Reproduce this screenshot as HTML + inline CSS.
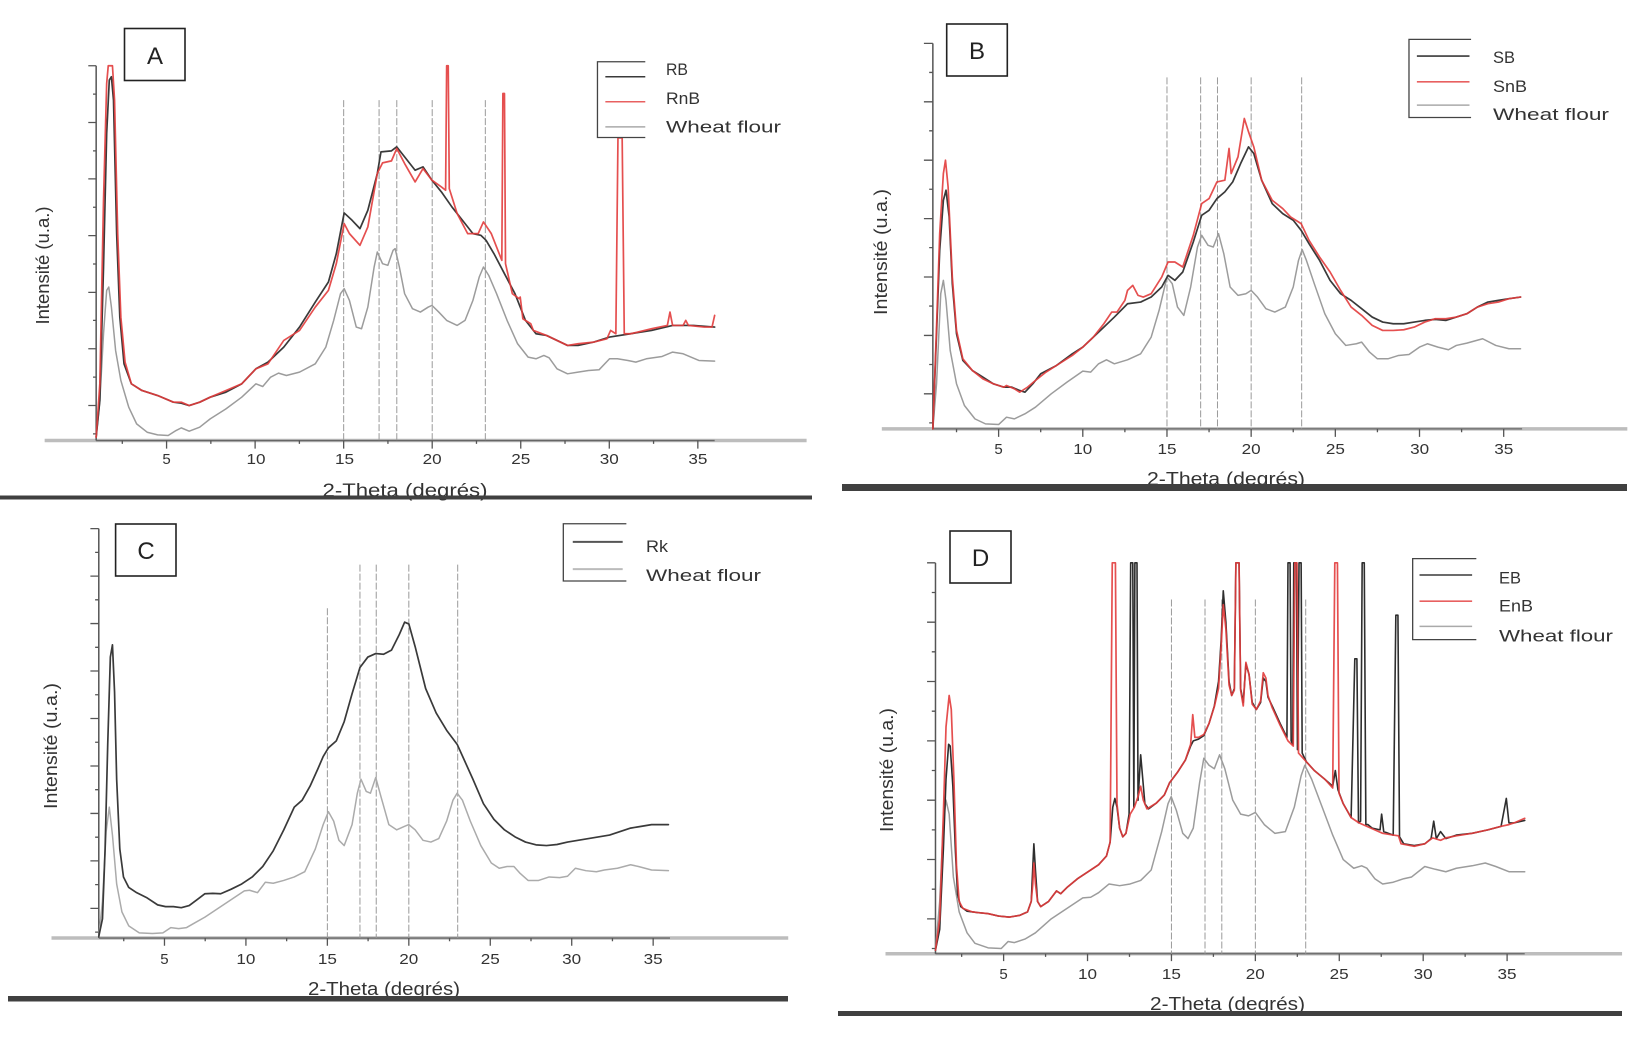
<!DOCTYPE html>
<html><head><meta charset="utf-8"><style>
html,body{margin:0;padding:0;background:#fff;width:1651px;height:1048px;overflow:hidden}
svg{display:block}
.p *{vector-effect:non-scaling-stroke}
.p polyline{stroke-linejoin:round;stroke-linecap:round}
text{font-family:"Liberation Sans",Arial,sans-serif;fill:#2a2a2a}
.tk{font-size:15px;fill:#333}
.lg{font-size:17px;fill:#333}
.ti{font-size:18px;fill:#333}
.bx{font-size:24px;fill:#222}
</style></head><body>
<svg width="1651" height="1048" viewBox="0 0 1651 1048" xmlns="http://www.w3.org/2000/svg">
<rect width="1651" height="1048" fill="#fff"/>

<!-- ================= PANEL A ================= -->
<svg class="p" x="0" y="0" width="825" height="524" viewBox="0 0 1570 1570" preserveAspectRatio="none">
 <line x1="85" y1="1320" x2="1535" y2="1320" stroke="#bdbdbd" stroke-width="3.5"/>
 <line x1="183" y1="1320" x2="1360" y2="1320" stroke="#666" stroke-width="1.3"/>
 <line x1="183" y1="197" x2="183" y2="1320" stroke="#555" stroke-width="1.5"/>
 <path d="M168 197H183M168 367H183M168 536H183M168 706H183M168 876H183M168 1045H183M168 1215H183M177 282H183M177 452H183M177 621H183M177 791H183M177 960H183M177 1130H183M177 1300H183" stroke="#555" stroke-width="1.3" fill="none"/>
 <path d="M232.75 1320V1330M317 1320V1344M401.25 1320V1330M485.5 1320V1344M569.75 1320V1330M654 1320V1344M738.25 1320V1330M822.5 1320V1344M906.75 1320V1330M991 1320V1344M1075.25 1320V1330M1159.5 1320V1344M1243.75 1320V1330M1328 1320V1344" stroke="#555" stroke-width="1.3" fill="none"/>
 <path d="M654 300V1320M721.4 300V1320M755.1 300V1320M822.5 300V1320M923.6 300V1320" stroke="#9a9a9a" stroke-width="1" stroke-dasharray="7 2" fill="none"/>
 <polyline fill="none" stroke="#9c9c9c" stroke-width="1.5" points="183,1310 190,1200 197,1000 203,870 207,860 212,920 220,1050 230,1140 245,1220 260,1270 280,1295 300,1303 320,1305 335,1290 345,1282 360,1292 380,1280 400,1255 430,1225 460,1190 487,1150 500,1158 515,1130 530,1118 545,1125 570,1115 600,1090 620,1040 635,960 648,880 655,865 665,900 678,980 688,985 700,920 712,800 718,755 728,790 738,795 748,750 752,745 760,800 770,880 785,925 800,935 815,920 822,915 835,935 850,960 870,975 885,960 900,900 912,830 920,800 930,825 945,880 965,960 985,1030 1005,1070 1020,1075 1035,1065 1045,1072 1060,1105 1080,1120 1100,1115 1120,1110 1140,1108 1160,1075 1175,1075 1195,1080 1210,1085 1230,1075 1260,1068 1280,1055 1300,1060 1330,1080 1360,1082"/>
 <polyline fill="none" stroke="#3a3a3a" stroke-width="1.7" points="183,1310 190,1200 197,800 203,400 208,240 212,230 216,300 222,700 228,950 236,1090 250,1150 270,1170 300,1185 330,1205 345,1208 360,1215 380,1205 400,1190 430,1175 460,1150 487,1105 510,1085 540,1040 570,980 600,905 625,845 640,760 655,638 670,660 685,685 700,630 718,520 725,455 745,452 755,440 770,470 790,510 805,500 822,540 840,575 860,620 880,660 900,700 915,705 925,720 940,760 960,820 980,880 1000,960 1020,1000 1040,1005 1060,1020 1080,1035 1100,1035 1130,1025 1160,1010 1200,1000 1240,990 1280,975 1320,975 1360,980"/>
 <polyline fill="none" stroke="#e23c3c" stroke-width="1.7" stroke-opacity="0.9" points="183,1310 190,1150 197,600 203,250 206,197 214,197 218,300 224,700 230,950 238,1085 250,1150 270,1170 300,1185 330,1205 345,1205 360,1215 380,1205 400,1190 430,1170 460,1150 487,1105 510,1090 540,1020 570,990 600,920 625,870 640,790 655,670 665,700 685,735 700,680 718,520 728,488 745,482 755,445 770,490 790,545 805,505 822,540 840,560 848,570 850,197 853,197 855,565 870,640 890,700 910,700 920,665 935,700 950,760 955,780 957,280 960,280 962,790 975,880 988,895 990,890 995,955 1010,970 1015,990 1040,1005 1060,1020 1080,1035 1100,1030 1130,1025 1155,1015 1162,990 1172,1000 1176,413 1184,413 1188,1000 1200,1000 1240,985 1270,975 1275,935 1280,975 1300,975 1305,960 1310,975 1340,980 1355,980 1360,945"/>
 <path d="M1228 185H1137V412H1228" stroke="#444" stroke-width="1.3" fill="none"/>
 <line x1="1152" y1="230" x2="1228" y2="230" stroke="#3a3a3a" stroke-width="1.5"/>
 <line x1="1152" y1="305" x2="1228" y2="305" stroke="#e86060" stroke-width="1.5"/>
 <line x1="1152" y1="380" x2="1228" y2="380" stroke="#aaa" stroke-width="1.5"/>
</svg>
<rect x="124.5" y="28.5" width="60.5" height="52" fill="none" stroke="#222" stroke-width="1.6"/>
<text class="bx" x="155" y="64" text-anchor="middle">A</text>
<text class="lg" x="666" y="75" textLength="22" lengthAdjust="spacingAndGlyphs">RB</text>
<text class="lg" x="666" y="104" textLength="34" lengthAdjust="spacingAndGlyphs">RnB</text>
<text class="lg" x="666" y="132.7" textLength="115" lengthAdjust="spacingAndGlyphs">Wheat flour</text>
<text class="tk" x="166.6" y="464" text-anchor="middle">5</text>
<text class="tk" x="256" y="464" text-anchor="middle" textLength="19" lengthAdjust="spacingAndGlyphs">10</text>
<text class="tk" x="344.5" y="464" text-anchor="middle" textLength="19" lengthAdjust="spacingAndGlyphs">15</text>
<text class="tk" x="432.2" y="464" text-anchor="middle" textLength="19" lengthAdjust="spacingAndGlyphs">20</text>
<text class="tk" x="520.8" y="464" text-anchor="middle" textLength="19" lengthAdjust="spacingAndGlyphs">25</text>
<text class="tk" x="609.3" y="464" text-anchor="middle" textLength="19" lengthAdjust="spacingAndGlyphs">30</text>
<text class="tk" x="697.9" y="464" text-anchor="middle" textLength="19" lengthAdjust="spacingAndGlyphs">35</text>
<text class="ti" x="405" y="496.5" text-anchor="middle" textLength="165" lengthAdjust="spacingAndGlyphs">2-Theta (degrés)</text>
<text class="ti" transform="translate(49,265.5) rotate(-90)" text-anchor="middle" textLength="118" lengthAdjust="spacingAndGlyphs">Intensité (u.a.)</text>
<rect x="0" y="495.5" width="812" height="4" fill="#404040"/>

<!-- ================= PANEL B ================= -->
<svg class="p" x="825" y="0" width="826" height="524" viewBox="0 0 1570 1570" preserveAspectRatio="none">
 <line x1="108" y1="1285" x2="1525" y2="1285" stroke="#bdbdbd" stroke-width="3.5"/>
 <line x1="205" y1="1285" x2="1325" y2="1285" stroke="#666" stroke-width="1.3"/>
 <line x1="205" y1="130" x2="205" y2="1285" stroke="#555" stroke-width="1.5"/>
 <path d="M188 130H205M188 305H205M188 480H205M188 655H205M188 830H205M188 1005H205M188 1180H205M198 217H205M198 392H205M198 567H205M198 742H205M198 917H205M198 1092H205M198 1267H205" stroke="#555" stroke-width="1.3" fill="none"/>
 <path d="M250 1285V1295M330 1285V1309M410 1285V1295M490 1285V1309M570 1285V1295M650 1285V1309M730 1285V1295M810 1285V1309M890 1285V1295M970 1285V1309M1050 1285V1295M1130 1285V1309M1210 1285V1295M1290 1285V1309" stroke="#555" stroke-width="1.3" fill="none"/>
 <path d="M650 232V1285M714 232V1285M746 232V1285M810 232V1285M906 232V1285" stroke="#9a9a9a" stroke-width="1" stroke-dasharray="7 2" fill="none"/>
 <polyline fill="none" stroke="#9c9c9c" stroke-width="1.5" points="205,1285 212,1150 220,880 225,840 230,900 238,1050 250,1150 265,1215 285,1255 305,1270 330,1272 345,1250 360,1255 380,1240 400,1220 430,1180 460,1145 490,1112 505,1115 520,1090 535,1078 550,1090 575,1078 600,1060 620,1010 635,930 650,830 660,850 670,920 682,945 695,860 708,740 716,705 728,735 738,740 748,700 758,760 770,860 785,885 800,880 810,870 822,890 838,925 855,935 875,920 890,860 900,780 907,748 915,780 930,850 950,940 970,1000 990,1035 1010,1030 1020,1025 1035,1055 1050,1075 1070,1075 1090,1065 1110,1062 1130,1040 1145,1030 1165,1040 1185,1048 1200,1035 1220,1028 1250,1015 1275,1035 1300,1045 1322,1045"/>
 <polyline fill="none" stroke="#3a3a3a" stroke-width="1.7" points="205,1285 212,1000 218,750 225,600 230,570 236,650 242,850 250,1000 262,1080 280,1110 300,1130 320,1150 340,1160 355,1160 370,1170 380,1175 395,1150 410,1120 440,1095 470,1060 490,1040 510,1010 530,980 550,950 575,910 600,905 620,890 640,860 652,825 665,840 680,815 700,725 716,645 730,630 745,595 760,575 775,545 790,490 805,440 815,460 830,540 850,610 870,640 890,660 905,690 920,730 940,780 960,840 980,880 1000,900 1020,925 1040,950 1060,965 1080,970 1100,970 1120,965 1140,960 1160,957 1180,960 1200,950 1220,940 1240,920 1260,905 1280,900 1300,895 1322,890"/>
 <polyline fill="none" stroke="#e23c3c" stroke-width="1.7" stroke-opacity="0.9" points="205,1285 212,980 218,700 225,520 229,480 234,560 242,830 250,990 262,1075 280,1110 300,1135 320,1150 340,1160 345,1155 360,1165 370,1175 385,1160 400,1140 420,1115 440,1095 470,1065 490,1040 510,1010 530,970 545,935 555,935 570,900 575,870 585,855 595,885 605,890 620,880 640,830 652,785 665,785 680,800 700,705 716,610 730,595 745,545 760,540 768,445 772,520 785,470 797,355 805,395 815,440 830,540 850,600 870,625 885,650 905,670 920,720 940,770 960,815 980,870 1000,920 1020,945 1040,975 1060,990 1080,990 1100,988 1120,980 1140,965 1160,955 1180,955 1200,950 1220,940 1240,920 1260,910 1280,905 1300,895 1322,890"/>
 <path d="M1228 118H1110V352H1228" stroke="#444" stroke-width="1.3" fill="none"/>
 <line x1="1125" y1="168" x2="1225" y2="168" stroke="#3a3a3a" stroke-width="1.6"/>
 <line x1="1125" y1="245" x2="1225" y2="245" stroke="#e86060" stroke-width="1.6"/>
 <line x1="1125" y1="315" x2="1225" y2="315" stroke="#aaa" stroke-width="1.5"/>
</svg>
<rect x="946.7" y="24" width="60.6" height="52" fill="none" stroke="#222" stroke-width="1.6"/>
<text class="bx" x="977" y="59" text-anchor="middle">B</text>
<text class="lg" x="1493" y="63" textLength="22" lengthAdjust="spacingAndGlyphs">SB</text>
<text class="lg" x="1493" y="92" textLength="34" lengthAdjust="spacingAndGlyphs">SnB</text>
<text class="lg" x="1493" y="120" textLength="116" lengthAdjust="spacingAndGlyphs">Wheat flour</text>
<text class="tk" x="998.6" y="454" text-anchor="middle">5</text>
<text class="tk" x="1082.8" y="454" text-anchor="middle" textLength="19" lengthAdjust="spacingAndGlyphs">10</text>
<text class="tk" x="1167" y="454" text-anchor="middle" textLength="19" lengthAdjust="spacingAndGlyphs">15</text>
<text class="tk" x="1251.2" y="454" text-anchor="middle" textLength="19" lengthAdjust="spacingAndGlyphs">20</text>
<text class="tk" x="1335.4" y="454" text-anchor="middle" textLength="19" lengthAdjust="spacingAndGlyphs">25</text>
<text class="tk" x="1419.6" y="454" text-anchor="middle" textLength="19" lengthAdjust="spacingAndGlyphs">30</text>
<text class="tk" x="1503.8" y="454" text-anchor="middle" textLength="19" lengthAdjust="spacingAndGlyphs">35</text>
<text class="ti" x="1226" y="485" text-anchor="middle" textLength="158" lengthAdjust="spacingAndGlyphs">2-Theta (degrés)</text>
<text class="ti" transform="translate(887,252) rotate(-90)" text-anchor="middle" textLength="126" lengthAdjust="spacingAndGlyphs">Intensité (u.a.)</text>
<rect x="842" y="484" width="785" height="7" fill="#404040"/>

<!-- ================= PANEL C ================= -->
<svg class="p" x="0" y="500" width="825" height="548" viewBox="0 0 1570 1570" preserveAspectRatio="none">
 <line x1="98" y1="1255" x2="1500" y2="1255" stroke="#bdbdbd" stroke-width="3.5"/>
 <line x1="188" y1="1255" x2="1275" y2="1255" stroke="#666" stroke-width="1.3"/>
 <line x1="188" y1="82" x2="188" y2="1255" stroke="#555" stroke-width="1.5"/>
 <path d="M172 82H188M172 218H188M172 354H188M172 490H188M172 626H188M172 762H188M172 898H188M172 1034H188M172 1170H188M181 150H188M181 286H188M181 422H188M181 558H188M181 694H188M181 830H188M181 966H188M181 1102H188M181 1238H188" stroke="#555" stroke-width="1.3" fill="none"/>
 <path d="M235.5 1255V1264M313 1255V1277M390.5 1255V1264M468 1255V1277M545.5 1255V1264M623 1255V1277M700.5 1255V1264M778 1255V1277M855.5 1255V1264M933 1255V1277M1010.5 1255V1264M1088 1255V1277M1165.5 1255V1264M1243 1255V1277" stroke="#555" stroke-width="1.3" fill="none"/>
 <path d="M623 310V1255M685 185V1255M716 185V1255M778 185V1255M871 185V1255" stroke="#9a9a9a" stroke-width="1" stroke-dasharray="7 2" fill="none"/>
 <polyline fill="none" stroke="#ababab" stroke-width="1.5" points="188,1250 195,1150 202,950 208,880 214,960 222,1100 232,1180 245,1220 265,1240 290,1242 310,1240 325,1225 340,1228 355,1225 370,1212 390,1195 410,1175 430,1155 450,1135 465,1120 475,1118 490,1125 505,1095 520,1098 540,1090 560,1080 580,1065 600,1000 615,930 625,893 635,920 645,975 655,990 670,930 680,840 687,800 697,835 705,840 715,795 725,850 740,930 755,945 770,935 778,930 790,945 805,975 820,980 835,970 850,920 862,860 870,840 880,860 895,920 915,990 935,1040 950,1055 965,1050 978,1050 990,1070 1005,1090 1025,1090 1045,1080 1065,1082 1080,1078 1095,1055 1115,1062 1135,1065 1150,1060 1175,1055 1200,1045 1215,1050 1240,1060 1272,1062"/>
 <polyline fill="none" stroke="#3a3a3a" stroke-width="1.7" points="188,1250 195,1200 200,1000 205,700 210,450 214,415 218,550 222,800 228,1000 235,1080 245,1110 260,1125 280,1140 300,1160 315,1165 330,1165 345,1168 360,1162 375,1145 390,1128 405,1127 420,1128 440,1115 460,1100 480,1080 500,1050 520,1005 540,945 560,880 575,860 590,820 605,770 615,735 625,710 640,690 655,635 670,555 685,480 700,450 715,440 730,442 745,430 760,385 770,350 778,355 790,420 810,540 830,610 850,660 870,700 885,750 900,800 920,870 940,915 960,945 980,965 1000,980 1020,988 1040,990 1060,987 1080,980 1100,975 1120,970 1140,965 1160,960 1180,950 1200,940 1220,935 1240,930 1272,930"/>
 <path d="M1192 68H1072V232H1192" stroke="#444" stroke-width="1.3" fill="none"/>
 <line x1="1090" y1="120" x2="1185" y2="120" stroke="#555" stroke-width="2"/>
 <line x1="1090" y1="198" x2="1185" y2="198" stroke="#bbb" stroke-width="2"/>
</svg>
<rect x="115.6" y="524" width="60.4" height="52" fill="none" stroke="#222" stroke-width="1.6"/>
<text class="bx" x="146" y="559" text-anchor="middle">C</text>
<text class="lg" x="646" y="552" textLength="22" lengthAdjust="spacingAndGlyphs">Rk</text>
<text class="lg" x="646" y="581" textLength="115" lengthAdjust="spacingAndGlyphs">Wheat flour</text>
<text class="tk" x="164.4" y="964" text-anchor="middle">5</text>
<text class="tk" x="245.9" y="964" text-anchor="middle" textLength="19" lengthAdjust="spacingAndGlyphs">10</text>
<text class="tk" x="327.4" y="964" text-anchor="middle" textLength="19" lengthAdjust="spacingAndGlyphs">15</text>
<text class="tk" x="408.8" y="964" text-anchor="middle" textLength="19" lengthAdjust="spacingAndGlyphs">20</text>
<text class="tk" x="490.3" y="964" text-anchor="middle" textLength="19" lengthAdjust="spacingAndGlyphs">25</text>
<text class="tk" x="571.7" y="964" text-anchor="middle" textLength="19" lengthAdjust="spacingAndGlyphs">30</text>
<text class="tk" x="653.2" y="964" text-anchor="middle" textLength="19" lengthAdjust="spacingAndGlyphs">35</text>
<text class="ti" x="384" y="995" text-anchor="middle" textLength="152" lengthAdjust="spacingAndGlyphs">2-Theta (degrés)</text>
<text class="ti" transform="translate(57,746) rotate(-90)" text-anchor="middle" textLength="126" lengthAdjust="spacingAndGlyphs">Intensité (u.a.)</text>
<rect x="8" y="996" width="780" height="5.5" fill="#404040"/>

<!-- ================= PANEL D ================= -->
<svg class="p" x="825" y="500" width="826" height="548" viewBox="0 0 1570 1570" preserveAspectRatio="none">
 <line x1="115" y1="1300" x2="1515" y2="1300" stroke="#bdbdbd" stroke-width="3.5"/>
 <line x1="210" y1="1300" x2="1330" y2="1300" stroke="#666" stroke-width="1.3"/>
 <line x1="210" y1="180" x2="210" y2="1300" stroke="#555" stroke-width="1.5"/>
 <path d="M194 180H210M194 350H210M194 520H210M194 690H210M194 860H210M194 1030H210M194 1200H210M203 265H210M203 435H210M203 605H210M203 775H210M203 945H210M203 1115H210M203 1285H210" stroke="#555" stroke-width="1.3" fill="none"/>
 <path d="M259.75 1300V1309M339.5 1300V1321M419.25 1300V1309M499 1300V1321M578.75 1300V1309M658.5 1300V1321M738.25 1300V1309M818 1300V1321M897.75 1300V1309M977.5 1300V1321M1057.25 1300V1309M1137 1300V1321M1216.75 1300V1309M1296.5 1300V1321" stroke="#555" stroke-width="1.3" fill="none"/>
 <path d="M658.5 285V1300M722.3 285V1300M754.2 285V1300M818 285V1300M913.7 285V1300" stroke="#9a9a9a" stroke-width="1" stroke-dasharray="7 2" fill="none"/>
 <polyline fill="none" stroke="#9c9c9c" stroke-width="1.5" points="210,1290 218,1150 225,920 230,860 236,900 244,1080 255,1180 270,1240 285,1270 310,1283 335,1285 348,1265 360,1268 380,1258 400,1240 430,1200 460,1170 490,1140 505,1138 520,1125 540,1100 560,1105 580,1100 600,1090 620,1060 640,950 652,870 658,850 668,890 680,955 690,970 700,940 712,810 720,740 730,760 740,770 750,730 760,770 775,860 790,900 805,905 818,895 835,930 855,955 875,950 892,880 905,790 912,760 925,800 945,880 965,960 985,1030 1005,1055 1020,1048 1030,1055 1045,1085 1060,1100 1080,1095 1100,1085 1115,1080 1140,1050 1160,1058 1180,1065 1200,1055 1230,1048 1255,1040 1275,1050 1300,1065 1330,1065"/>
 <polyline fill="none" stroke="#2e2e2e" stroke-width="1.6" points="210,1290 218,1230 225,1000 230,800 235,700 238,705 243,820 248,1010 252,1130 258,1165 270,1178 290,1182 310,1185 330,1192 350,1195 370,1190 385,1180 392,1150 395,1050 397,985 400,1060 404,1150 410,1165 425,1150 440,1120 448,1128 460,1110 480,1085 500,1065 520,1045 535,1020 542,980 547,880 551,855 555,880 560,940 566,965 572,955 578,900 581,180 585,180 587,880 589,180 593,180 595,860 600,730 604,800 608,870 615,885 630,868 645,845 655,810 670,780 685,745 695,705 700,690 710,685 720,675 730,640 740,590 748,520 753,400 757,260 762,350 768,520 773,560 778,540 781,180 787,180 790,540 795,580 800,470 806,500 812,580 820,600 828,580 833,510 838,520 842,565 850,590 865,640 878,680 880,180 884,180 886,690 889,700 891,180 896,180 898,715 901,180 905,180 907,725 915,750 930,775 950,800 965,820 970,775 975,830 985,870 1000,910 1007,455 1011,455 1014,925 1018,920 1021,180 1025,180 1028,930 1032,930 1040,940 1055,945 1058,900 1062,950 1080,960 1085,330 1089,330 1092,965 1100,985 1120,990 1140,985 1152,970 1157,920 1162,970 1170,950 1180,970 1200,960 1230,955 1260,945 1285,935 1295,855 1300,925 1310,925 1330,918"/>
 <polyline fill="none" stroke="#e23c3c" stroke-width="1.7" stroke-opacity="0.9" points="210,1290 218,1200 225,900 230,650 236,560 240,600 245,800 250,1050 255,1150 262,1170 280,1180 290,1182 310,1185 330,1192 350,1195 370,1190 385,1180 392,1150 395,1100 397,1040 400,1100 404,1150 410,1165 425,1150 440,1120 448,1128 460,1110 480,1085 500,1065 520,1045 535,1020 542,980 546,180 552,180 555,870 560,940 566,965 572,955 580,900 588,880 595,850 600,820 605,860 612,885 630,868 645,845 655,810 670,780 685,745 695,700 699,615 703,680 710,680 720,672 730,640 740,592 748,540 753,420 757,300 762,370 768,530 773,560 778,545 781,180 787,180 790,545 795,590 800,465 806,500 812,585 820,600 828,575 833,495 838,510 842,560 850,595 865,645 880,690 890,705 893,180 897,180 900,725 915,750 930,775 950,800 965,825 969,180 974,180 977,840 985,870 1000,910 1015,925 1030,935 1045,945 1060,955 1080,960 1090,962 1095,985 1120,992 1140,985 1155,968 1170,975 1180,968 1200,962 1230,955 1260,945 1285,935 1300,930 1310,925 1330,912"/>
 <path d="M1238 168H1117V400H1238" stroke="#444" stroke-width="1.3" fill="none"/>
 <line x1="1130" y1="215" x2="1230" y2="215" stroke="#3a3a3a" stroke-width="1.5"/>
 <line x1="1130" y1="290" x2="1230" y2="290" stroke="#e86060" stroke-width="1.6"/>
 <line x1="1130" y1="362" x2="1230" y2="362" stroke="#aaa" stroke-width="1.5"/>
</svg>
<rect x="950" y="531" width="61" height="52" fill="none" stroke="#222" stroke-width="1.6"/>
<text class="bx" x="980.5" y="566" text-anchor="middle">D</text>
<text class="lg" x="1499" y="583.3" textLength="22" lengthAdjust="spacingAndGlyphs">EB</text>
<text class="lg" x="1499" y="611.7" textLength="34" lengthAdjust="spacingAndGlyphs">EnB</text>
<text class="lg" x="1499" y="641.5" textLength="114" lengthAdjust="spacingAndGlyphs">Wheat flour</text>
<text class="tk" x="1003.6" y="979" text-anchor="middle">5</text>
<text class="tk" x="1087.5" y="979" text-anchor="middle" textLength="19" lengthAdjust="spacingAndGlyphs">10</text>
<text class="tk" x="1171.4" y="979" text-anchor="middle" textLength="19" lengthAdjust="spacingAndGlyphs">15</text>
<text class="tk" x="1255.3" y="979" text-anchor="middle" textLength="19" lengthAdjust="spacingAndGlyphs">20</text>
<text class="tk" x="1339.2" y="979" text-anchor="middle" textLength="19" lengthAdjust="spacingAndGlyphs">25</text>
<text class="tk" x="1423.1" y="979" text-anchor="middle" textLength="19" lengthAdjust="spacingAndGlyphs">30</text>
<text class="tk" x="1507" y="979" text-anchor="middle" textLength="19" lengthAdjust="spacingAndGlyphs">35</text>
<text class="ti" x="1227.5" y="1010" text-anchor="middle" textLength="155" lengthAdjust="spacingAndGlyphs">2-Theta (degrés)</text>
<text class="ti" transform="translate(893,770) rotate(-90)" text-anchor="middle" textLength="124" lengthAdjust="spacingAndGlyphs">Intensité (u.a.)</text>
<rect x="838" y="1011" width="784" height="5" fill="#404040"/>
</svg>
</body></html>
